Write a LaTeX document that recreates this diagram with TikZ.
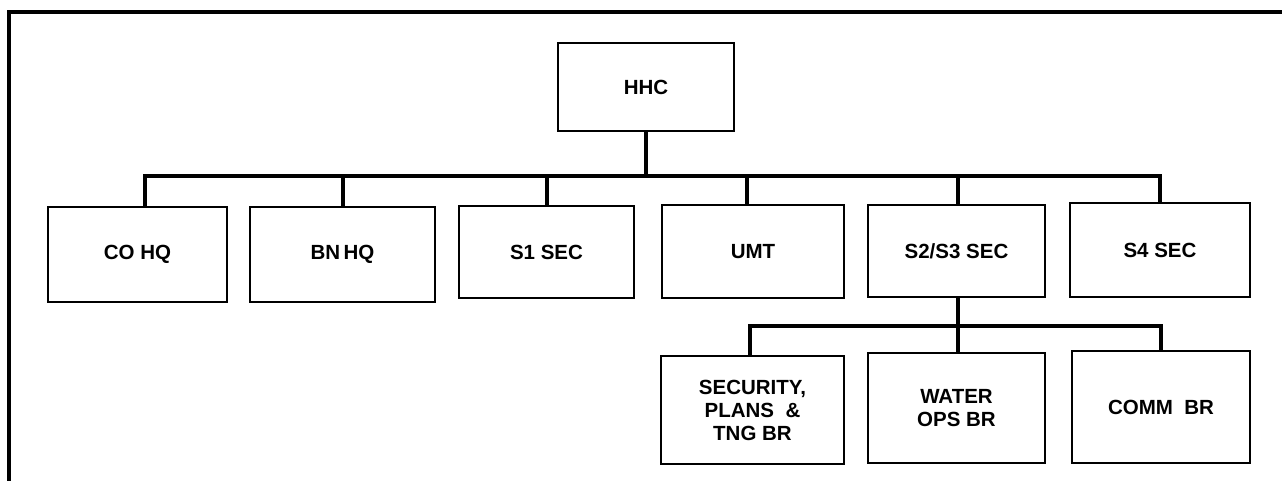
\documentclass[tikz,border=0pt]{standalone}
\usepackage{fontspec}
\setmainfont{Liberation Sans}
\begin{document}
\begin{tikzpicture}[x=1pt,y=-1pt,
  unit/.style={draw=black, line width=2.6pt, fill=white, minimum width=#1, align=center,
    font=\bfseries\fontsize{20.5}{23}\selectfont, inner sep=0pt},
  unit/.default=178pt,
  link/.style={line width=4pt, line cap=rect}]
\useasboundingbox (0,0) rectangle (1282,480);
\draw[line width=3.2pt] (9,490) -- (9,12) -- (1290,12);

% top
\node[unit=176pt, minimum height=88pt] (hhc) at (646,87) {HHC};
% second row
\node[unit=179pt, minimum height=95pt] (co) at (137.5,254.5) {CO HQ};
\node[unit=185pt, minimum height=95pt] (bn) at (342.5,254.5) {BN\,HQ};
\node[unit=175pt, minimum height=92pt] (s1) at (546.5,252) {S1 SEC};
\node[unit=182pt, minimum height=93pt] (umt) at (753,251.5) {UMT};
\node[unit=177pt, minimum height=92pt] (s23) at (956.5,251) {S2/S3 SEC};
\node[unit=180pt, minimum height=94pt] (s4) at (1160,250) {S4 SEC};
% third row
\node[unit=183pt, minimum height=108pt] (sec) at (752.5,410) {SECURITY,\\PLANS \ \&\\TNG BR};
\node[unit=177pt, minimum height=110pt] (wat) at (956.5,408) {WATER\\OPS BR};
\node[unit=178pt, minimum height=112pt] (comm) at (1161,407) {COMM\ \ BR};

% connectors
\coordinate (bar) at (647,176);
\coordinate (sub) at (958,326);
\draw[link] (hhc.south) -- (hhc.south |- bar);
\draw[link] ([xshift=7.5pt]co.north) |- (bar) -| (s4.north);
\draw[link] (bn.north) -- (bn.north |- bar);
\draw[link] (s1.north) -- (s1.north |- bar);
\draw[link] ([xshift=-6pt]umt.north) -- ([xshift=-6pt]umt.north |- bar);
\draw[link] ([xshift=1.5pt]s23.north) -- ([xshift=1.5pt]s23.north |- bar);
\draw[link] ([xshift=1.5pt]s23.south) -- ([xshift=1.5pt]wat.north);
\draw[link] ([xshift=-2.5pt]sec.north) |- (sub) -| (comm.north);
\end{tikzpicture}
\end{document}
